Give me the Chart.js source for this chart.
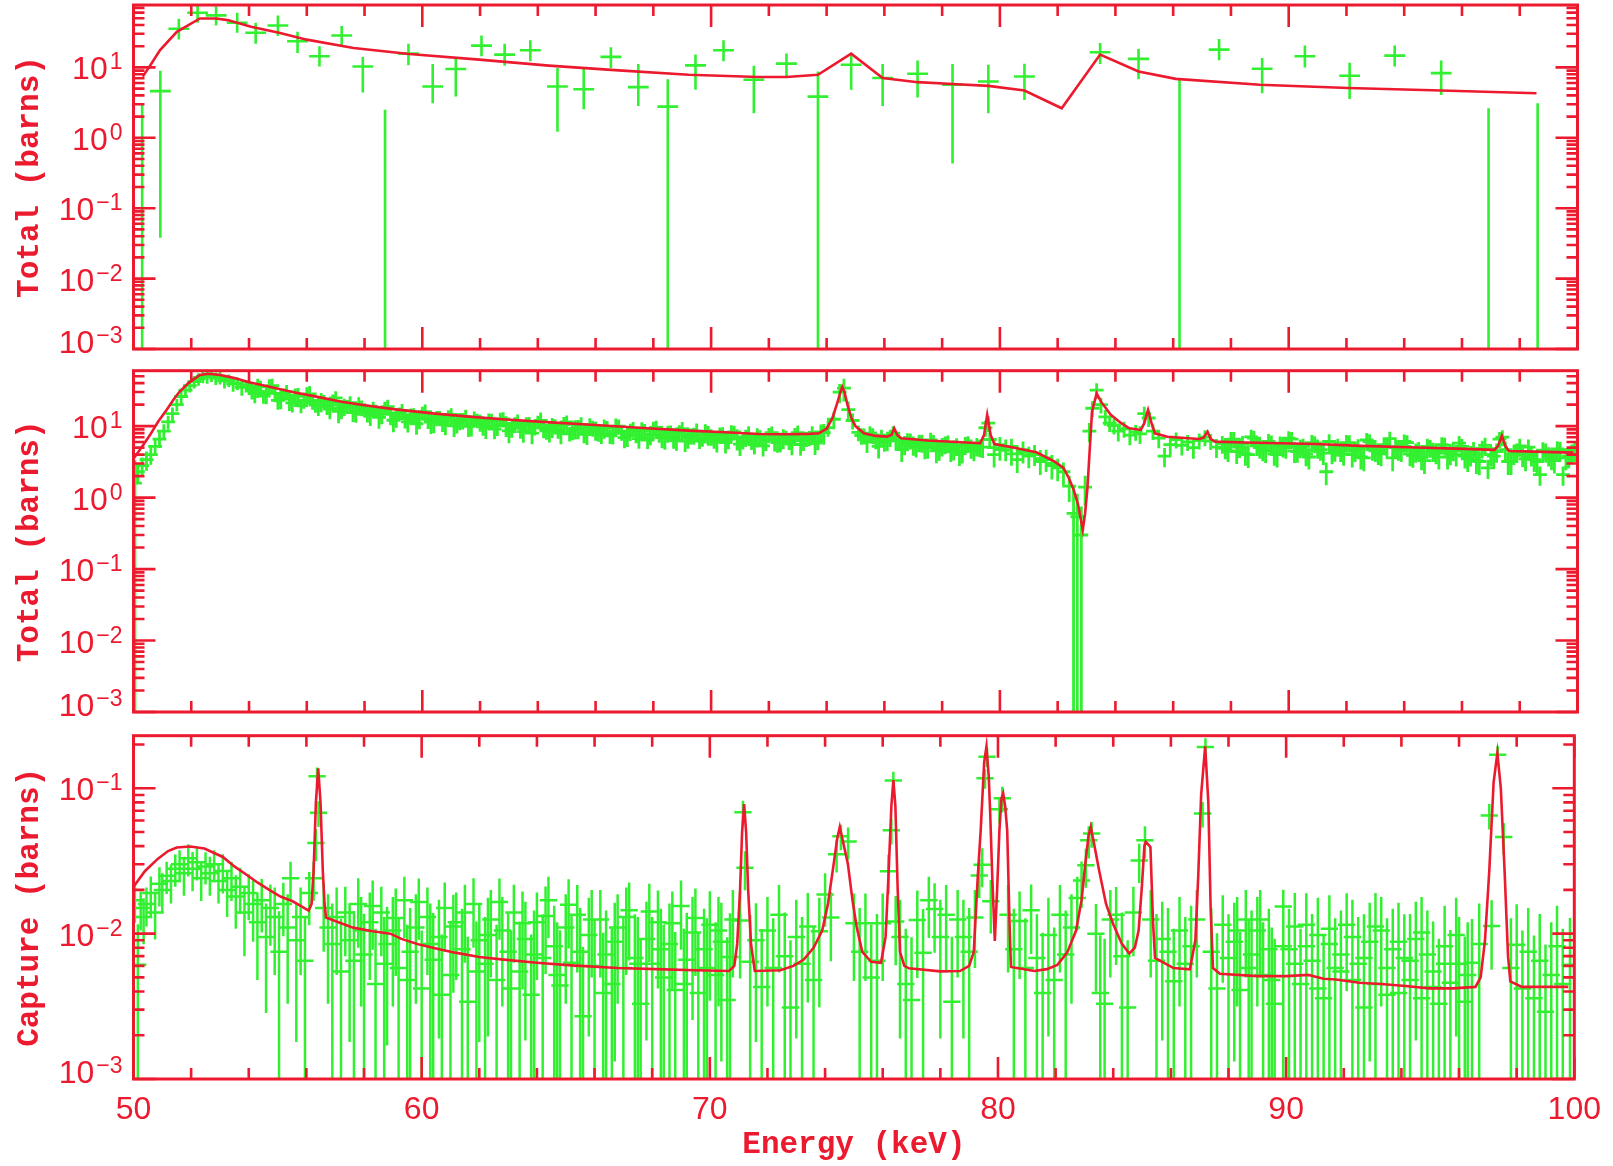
<!DOCTYPE html>
<html><head><meta charset="utf-8">
<script src="https://cdn.jsdelivr.net/npm/chart.js@4.4.1/dist/chart.umd.min.js"></script>
<style>
html,body{margin:0;padding:0;background:#fff;width:1613px;height:1166px;overflow:hidden}
canvas{position:absolute;left:0}
</style></head><body>
<canvas id="c1" width="1613" height="360" style="top:0px"></canvas>
<canvas id="c2" width="1613" height="360" style="top:360px"></canvas>
<canvas id="c3" width="1613" height="446" style="top:720px"></canvas>
<script>
// ---------------- axis ticks ----------------
const X_LABELS = [50, 60, 70, 80, 90, 100];
const X_TICKS = [50,52,54,56,58,60,62,64,66,68,70,72,74,76,78,80,82,84,86,88,90,92,94,96,98,100];
const P1_DECADES = [-3, -2, -1, 0, 1];
const P2_DECADES = [-3, -2, -1, 0, 1];
const P3_DECADES = [-3, -2, -1];

// ---------------- panel 1 : Total, coarse ----------------
const P1_E  = [50.3,50.93,51.57,52.22,52.86,53.59,54.23,55.0,55.68,56.44,57.21,57.94,58.71,59.52,60.36,61.16,62.05,62.85,63.74,64.68,65.59,66.53,67.48,68.5,69.46,70.43,71.48,72.61,73.7,74.85,75.94,77.15,78.36,79.6,80.85,83.47,84.8,86.22,87.59,89.08,90.56,92.11,93.67,95.28,96.92,98.62];
const P1_Y  = [0.0003,4.6,35.4,59.8,54.8,43,31,39.4,23.5,14.4,28.4,10.3,0.0003,15.7,5.35,9.5,20.4,15.2,17.5,5.35,4.9,14.1,5.25,2.77,10.7,17.5,6.67,11.3,3.85,10.9,7.06,8.13,5.66,6.3,7.44,16.4,13.2,0.0003,17.9,9.58,14.4,7.6,14.7,8.3,0.0003,0.0003];
const P1_LO = [0,0.038,24.9,43,39.3,31,21.6,28,16,10.3,20.4,4.4,0,10.7,3.1,3.85,14.4,10.6,12.2,1.22,2.55,9.8,2.84,0,4.8,12.2,2.23,7.3,0,4.8,2.84,3.73,0.43,2.23,3.45,11.2,6.8,0,12.6,4.3,10.0,3.57,10.3,4.07,0,0];
const P1_HI = [3.1,9.0,49,77,74,60,43,54.8,32,20,38.7,14,2.5,21.6,11.2,13.6,28.4,21.6,24.3,9.8,9.8,19.3,11.2,6.8,15.2,24.3,10.6,15.7,8.77,15.2,11.2,12.5,11.2,10.9,11.3,22.2,18.3,7.06,25.4,13.6,20.4,11.6,20.4,12.5,2.63,3.1];
const P1_XERR = 0.36;
const P1_MODEL_E = [50.32,50.6,50.92,51.5,52.3,52.86,53.26,54.07,55.04,56.0,57.62,59.55,61.97,64.38,66.8,69.22,71.64,72.61,73.7,74.85,75.94,77.15,78.36,79.6,80.85,82.14,83.47,84.8,86.09,89.0,92.06,95.28,98.58];
const P1_MODEL_Y = [7.4,11,17.6,32,49.6,49.5,47,37.8,31,24.8,18.9,15.5,12.9,10.6,9.07,7.87,7.3,7.3,7.87,15.7,7.06,6.17,5.8,5.47,4.69,2.63,15.2,8.77,6.88,5.66,5.1,4.69,4.3];

// ---------------- panel 2 : Total, fine ----------------
const P2_E_A = [50.05,50.15,50.3,50.45,50.6,50.75,50.9,51.05,51.2,51.35,51.5,51.65,51.8,51.95,52.1,52.25,52.4,52.55,52.7,52.85,53.0,53.15,53.3,53.45,53.6,53.75,53.9];
const P2_Y_A = [1.6,2.3,2.8,3.4,4.0,5.2,6.6,8.5,11.5,15,20,26,32,37,42,46,50,49,52,47,48,43,44,39,40,35,37];
const P2_D_A = [1.1,.3,.3,.3,.28,.25,.25,.25,.22,.22,.2,.2,.2,.2,.2,.2,.2,.2,.2,.2,.2,.22,.2,.22,.2,.24,.2];
const P2_E_B = [54,54.2,54.4,54.6,54.8,55,55.2,55.4,55.6,55.8,56,56.2,56.4,56.6,56.8,57,57.2,57.4,57.6,57.8,
  58,58.2,58.4,58.6,58.8,59,59.2,59.4,59.6,59.8,60,60.2,60.4,60.6,60.8,61,61.2,61.4,61.6,61.8,
  62,62.2,62.4,62.6,62.8,63,63.2,63.4,63.6,63.8,64,64.2,64.4,64.6,64.8,65,65.2,65.4,65.6,65.8,
  66,66.2,66.4,66.6,66.8,67,67.2,67.4,67.6,67.8,68,68.2,68.4,68.6,68.8,69,69.2,69.4,69.6,69.8,
  70,70.2,70.4,70.6,70.8,71,71.2,71.4,71.6,71.8,72,72.2,72.4,72.6,72.8,73,73.2,73.4,73.6,73.8];
const P2_Y_B = [35,29,36,29,37,23,28,24,27,19.4,27.5,22,19.8,22.5,17.3,24.8,17.9,19,15.5,19.7,
  17,14.3,16.5,14.6,18.7,12.1,15,12.9,14.2,10.8,15.6,12.5,11.5,13.3,10.4,14.6,11.3,12.1,9.9,12.9,
  11.4,9.6,12.2,10.1,12.6,8.6,10.7,9.4,10.9,8.0,11.6,9.4,8.7,10.1,8.0,11.5,8.7,9.4,7.7,10.1,
  8.9,7.6,9.7,8.0,10.0,6.9,8.5,7.5,8.7,6.4,9.0,7.5,6.9,8.1,6.4,9.2,7.0,7.5,6.2,8.2,
  7.2,6.1,7.8,6.6,8.3,5.6,7.0,6.2,7.2,5.3,7.6,6.4,5.9,7.0,5.6,8.1,6.3,6.9,5.8,8.3];
const P2_D_B = [.22,.28,.2,.3,.24,.26,.2,.32,.25,.22,.27,.23,.3,.21,.28,.24,.3,.22,.26,.29,
  .23,.3,.21,.27,.25,.32,.22,.28,.24,.3,.2,.27,.31,.23,.28,.22,.3,.26,.29,.24,
  .27,.31,.22,.28,.24,.33,.25,.29,.22,.3,.21,.28,.32,.24,.3,.23,.27,.3,.25,.28,
  .3,.26,.22,.31,.24,.29,.27,.23,.3,.25,.28,.22,.32,.26,.29,.24,.31,.27,.23,.3,
  .26,.3,.24,.28,.22,.32,.27,.25,.3,.29,.24,.31,.27,.23,.3,.26,.29,.24,.32,.27];
const P2_E_B2 = [54.1,54.3,54.5,54.7,54.9,55.1,55.3,55.5,55.7,55.9,56.1,56.3,56.5,56.7,56.9,57.1,57.3,57.5,57.7,57.9,
  58.1,58.3,58.5,58.7,58.9,59.1,59.3,59.5,59.7,59.9,60.1,60.3,60.5,60.7,60.9,61.1,61.3,61.5,61.7,61.9,
  62.1,62.3,62.5,62.7,62.9,63.1,63.3,63.5,63.7,63.9,64.1,64.3,64.5,64.7,64.9,65.1,65.3,65.5,65.7,65.9,
  66.1,66.3,66.5,66.7,66.9,67.1,67.3,67.5,67.7,67.9,68.1,68.3,68.5,68.7,68.9,69.1,69.3,69.5,69.7,69.9,
  70.1,70.3,70.5,70.7,70.9,71.1,71.3,71.5,71.7,71.9,72.1,72.3,72.5,72.7,72.9,73.1,73.3,73.5,73.7,73.9];
const P2_Y_B2 = [32,35.5,26.4,35.5,28.7,24.9,30.5,21.2,26.2,23,28.2,19.7,22.4,19.4,22.3,16.1,19,21.3,16,18.3,
  15.6,17.7,13.3,18,14.7,13,16.3,11.5,14.5,12.9,16,11.4,13.1,11.5,13.7,10.1,12,13.6,10.4,12.1,
  10.5,12,9.1,12.6,10.4,9.3,11.7,8.4,10.6,9.6,12,8.6,9.9,8.8,10.5,7.8,9.3,10.6,8.1,9.5,
  8.3,9.5,7.3,9.95,8.3,7.4,9.4,6.7,8.5,7.7,9.6,6.9,8.0,7.1,8.4,6.2,7.4,8.5,6.6,7.7,
  6.7,7.7,5.9,8.15,6.8,6.1,7.7,5.5,7.0,6.4,8.1,5.9,6.9,6.2,7.4,5.5,6.7,7.7,6.2,8.1];
const P2_D_B2 = [.26,.3,.22,.28,.25,.31,.23,.27,.3,.24,.29,.22,.3,.26,.24,.32,.27,.23,.3,.25,
  .28,.24,.31,.22,.3,.27,.25,.29,.23,.3,.26,.32,.24,.28,.22,.3,.27,.25,.31,.23,
  .3,.25,.28,.22,.32,.26,.24,.3,.27,.23,.29,.25,.31,.24,.28,.22,.3,.26,.33,.25,
  .27,.3,.23,.29,.25,.31,.22,.28,.26,.3,.24,.29,.27,.32,.23,.3,.25,.28,.22,.31,
  .28,.24,.3,.26,.33,.23,.29,.27,.25,.3,.22,.28,.31,.25,.27,.3,.24,.29,.26,.32];
const P2_E_C = [74.05,74.25,74.45,74.6,74.75,74.9,75.1,75.3,75.5,75.7,75.9,76.1,76.3,76.5,76.7,76.9,77.1,77.3,77.5,77.7,
  77.9,78.1,78.3,78.5,78.7,78.9,79.1,79.3,79.5,79.65,79.8,80,80.2,80.4,80.6,80.8,81,81.2,81.4,81.6,
  81.8,82,82.2,82.4,82.55,82.68,82.82,82.95,83.1,83.2,83.35,83.5,83.65,83.8,83.95,84.1,84.3,84.5,84.7,84.85,
  85,85.15,85.3,85.5,85.7,85.9,86.1,86.3,86.5,86.7,86.9,87.1,87.3,87.5];
const P2_Y_C = [9.5,12.5,30,34,17,12,8.2,7.4,8.0,6.6,7.1,6.2,8.0,6.5,5.6,6.3,5.2,5.9,5.0,6.0,
  4.7,5.6,4.5,5.3,4.4,5.8,4.6,5.1,9.5,6.5,5.0,5.5,4.6,5.2,4.1,4.7,3.9,4.2,3.5,3.6,
  3.0,2.6,2.3,1.45,0.6,0.54,0.3,1.4,8.5,17.8,32,20,13.5,11,10.2,8.5,9.2,7.5,8.3,7.8,
  15,13,8.5,6.8,3.8,5.5,6.5,5.4,6.0,5.0,6.3,7.0,6.2,5.1];
const P2_D_C = [.25,.25,.3,.35,.3,.25,.25,.25,.25,.28,.25,.28,.25,.25,.3,.25,.3,.28,.3,.25,
  .3,.28,.3,.28,.32,.25,.3,.28,.25,.25,.3,.28,.3,.28,.32,.3,.32,.3,.32,.3,
  .32,.35,.35,.4,1.3,1.1,1.5,.45,.3,.25,.25,.25,.25,.25,.25,.28,.25,.28,.25,.28,
  .25,.25,.25,.28,.3,.28,.25,.28,.25,.3,.25,.25,.25,.3];
const P2_E_C2 = [75.2,75.4,75.6,75.8,76.0,76.2,76.4,76.6,76.8,77.0,77.2,77.4,77.6,77.8,78.0,78.2,78.4,78.6,78.8,79.0,
  79.2,79.4,79.6,79.8,80.0,80.2,80.4,80.6,80.8,81.0,81.2,81.4,81.6,81.8];
const P2_Y_C2 = [7.4,6.0,7.5,5.2,6.1,7.0,6.6,4.7,6.2,5.5,5.9,5.0,6.4,4.5,5.3,5.8,4.8,4.2,5.5,5.0,
  5.3,5.1,11,4.0,4.7,5.1,4.1,3.4,4.3,3.8,4.0,3.2,3.4,2.8];
const P2_D_C2 = [.26,.3,.25,.32,.28,.27,.3,.33,.28,.3,.27,.31,.26,.33,.29,.28,.31,.34,.28,.3,
  .29,.3,.25,.34,.3,.28,.32,.35,.3,.32,.31,.35,.33,.36];
const P2_E_D = [87.7,87.9,88.1,88.3,88.5,88.7,88.9,89.1,89.3,89.5,89.7,89.9,90.1,90.3,90.5,90.7,90.9,91.1,91.3,91.5,
  91.7,91.9,92.1,92.3,92.5,92.7,92.9,93.1,93.3,93.5,93.7,93.9,94.1,94.3,94.5,94.7,94.9,95.1,95.3,95.5,
  95.7,95.9,96.1,96.3,96.5,96.7,96.9,97.1,97.3,97.5,97.7,97.9,98.1,98.3,98.5,98.7,98.9,99.1,99.3,99.5,99.7,99.9];
const P2_Y_D = [5.7,4.5,6.6,5.1,4.1,7.1,5.3,4.6,6.1,4.1,5.6,5.0,6.6,4.4,5.2,3.7,5.7,4.7,2.3,4.2,
  5.2,4.1,5.9,4.5,3.7,6.4,4.7,4.2,5.5,6.7,5.0,4.5,5.9,3.9,4.6,3.3,5.0,4.2,5.5,3.7,
  4.6,5.8,3.8,4.0,3.3,4.9,2.6,3.8,6.6,4.7,3.2,4.4,3.9,5.1,3.4,2.1,4.4,3.6,4.8,2.1,3.8,4.5];
const P2_D_D = [.28,.3,.25,.3,.32,.25,.28,.3,.27,.32,.28,.3,.25,.3,.28,.33,.27,.3,.35,.3,
  .28,.32,.26,.3,.33,.25,.3,.32,.27,.25,.28,.3,.26,.33,.3,.35,.28,.3,.27,.33,
  .3,.26,.33,.32,.35,.28,.3,.33,.25,.3,.35,.3,.32,.28,.33,.3,.3,.33,.28,.3,.32,.3];
const P2_E_D2 = [87.8,88.0,88.2,88.4,88.6,88.8,89.0,89.2,89.4,89.6,89.8,90.0,90.2,90.4,90.6,90.8,91.0,91.2,91.4,91.6,
  91.8,92.0,92.2,92.4,92.6,92.8,93.0,93.2,93.4,93.6,93.8,94.0,94.2,94.4,94.6,94.8,95.0,95.2,95.4,95.6,
  95.8,96.0,96.2,96.4,96.6,96.8,97.0,97.2,97.4,97.6,97.8,98.0,98.2,98.4,98.6,98.8,99.0,99.2,99.4,99.6,99.8];
const P2_Y_D2 = [4.9,6.5,4.4,5.7,4.0,6.8,5.0,4.5,5.78,4.0,5.2,6.8,4.5,5.0,4.1,5.9,5.0,4.2,6.1,4.6,
  4.5,5.9,4.0,5.1,3.6,6.1,4.5,4.1,5.17,3.6,4.7,6.1,4.1,4.4,3.65,5.2,4.5,3.7,5.4,4.1,
  4.0,5.2,3.5,4.6,3.2,5.4,4.0,4.4,7.0,3.2,4.1,5.3,3.5,3.9,3.2,4.6,3.9,3.3,4.7,3.6,4.25];
const P2_D_D2 = [.3,.27,.33,.28,.35,.26,.3,.32,.28,.34,.3,.25,.32,.29,.33,.27,.3,.32,.26,.31,
  .3,.27,.34,.29,.35,.26,.3,.33,.28,.35,.3,.25,.33,.3,.34,.28,.3,.33,.27,.31,
  .32,.27,.35,.3,.36,.27,.31,.3,.25,.35,.3,.26,.33,.3,.35,.29,.3,.34,.28,.33,.3];
const P2_XERR = 0.24;
const P2_MODEL_E = [50.0,50.3,50.57,50.85,51.15,51.4,51.6,51.9,52.3,52.6,
  53.0,53.5,54.0,54.71,55.5,56.33,57.2,57.94,59.0,60.36,
  61.5,62.77,64.3,66.0,67.5,69.22,70.5,71.64,72.6,73.4,
  73.73,74.0,74.2,74.35,74.48,74.54,74.62,74.72,74.86,75.0,
  75.29,75.7,76.1,76.25,76.34,76.45,76.58,77.5,78.5,79.32,
  79.45,79.56,79.68,79.81,80.5,81.26,81.9,82.2,82.39,82.55,
  82.71,82.8,82.87,82.95,83.03,83.1,83.19,83.35,83.5,83.84,
  84.2,84.48,84.88,85.0,85.13,85.25,85.37,85.8,86.9,87.05,
  87.19,87.3,87.46,88.5,90.93,92.5,94.15,95.8,97.13,97.25,
  97.38,97.5,97.62,98.5,99.85];
const P2_MODEL_Y = [3.5,5.2,7.5,11.5,17,24,30.5,40,52,54,
  52,47,41,35.7,30,25.9,22,19.8,17.3,15.1,
  13.7,12.5,11.4,10.4,9.5,8.65,8.2,7.77,7.7,7.8,
  7.94,9.2,12.9,20,30,35.7,30,20,12.9,10,
  7.94,7.3,7.13,7.6,9.34,7.5,6.77,6.3,6.0,5.77,
  7.5,14.4,7.5,5.63,5.0,4.31,3.19,2.6,1.87,1.3,
  0.79,0.5,0.353,0.6,1.35,4,16,28.8,22,14.4,
  11,9.34,8.85,11,16.9,11,7.94,7.1,6.62,6.9,
  8.37,6.6,6.07,5.9,5.63,5.3,5.07,4.85,4.65,5.3,
  7.3,5.3,4.5,4.4,4.26];

// ---------------- panel 3 : Capture ----------------
const P3_E_A = [50.05,50.15,50.25,50.35,50.45,50.6,50.75,50.9,51.0,51.15,51.3,51.45,51.6,51.75,51.9,52.05,52.2,52.35,52.5,52.65,
  52.8,52.95,53.1,53.25,53.4,53.55,53.7,53.85,54.0,54.15,54.3,54.45,54.6,54.75,54.9,55.05,55.2,55.35,55.45,55.65,
  55.8,55.95,56.1,56.25,56.33,56.37,56.42,56.6,56.75,56.9,57.05,57.2,57.35,57.5,57.65];
const P3_Y_A = [.017,.0061,.015,.013,.016,.019,.014,.022,.02,.025,.023,.028,.03,.026,.033,.028,.031,.024,.029,.026,
  .03,.023,.027,.02,.024,.018,.021,.014,.019,.016,.012,.017,.0095,.015,.013,.0075,.016,.011,.024,.009,
  .013,.0065,.019,.024,.042,.121,.0678,.015,.011,.0085,.013,.0055,.014,.009,.0065];
const P3_D_A = [.3,.9,.3,.35,.3,.3,.35,.3,.3,.25,.3,.25,.25,.3,.25,.3,.25,.3,.25,.3,
  .25,.3,.3,.35,.3,.4,.35,.5,.35,.45,.6,.4,.7,.45,.6,.9,.4,.7,.3,.8,
  .6,1.0,.4,.3,.25,.15,.2,.5,.7,.9,.6,1.3,.5,.8,1.2];
const P3_E_B = [57.8,58.0,58.2,58.4,58.6,58.8,59.0,59.2,59.4,59.6,
  59.8,60.0,60.2,60.4,60.6,60.8,61.0,61.2,61.4,61.6,
  61.8,62.0,62.2,62.4,62.6,62.8,63.0,63.2,63.4,63.6,
  63.8,64.0,64.2,64.4,64.6,64.8,65.0,65.2,65.4,65.6,
  65.8,66.0,66.2,66.4,66.6,66.8,67.0,67.2,67.4,67.6,
  67.8,68.0,68.2,68.4,68.6,68.8,69.0,69.2,69.4,69.6,
  69.8,70.0,70.2,70.4,70.6,70.8,71.05,71.15,71.22,71.4,
  71.6,71.8,72.0,72.2,72.4,72.6,72.8,73.0,73.2,73.4,
  73.6,73.8,74.0,74.2,74.4,74.55,74.8,75.0,75.2,75.4,
  75.6,75.8,76.0,76.2,76.3,76.37,76.45,76.6,76.8,77.0,
  77.2,77.4,77.6,77.8,78.0,78.2,78.4,78.6,78.8,79.0,
  79.2,79.35,79.45,79.55,79.62,79.75,80.05,80.15,80.35,80.55,
  80.75,80.95,81.15,81.35,81.55,81.75,81.95,82.15,82.35,82.55,
  82.75,82.9,83.05,83.15,83.25,83.4,83.55,83.7,83.9,84.1,
  84.3,84.5,84.7,84.9,85.1,85.3,85.5,85.7,85.9,86.1,
  86.3,86.5,86.7,86.9,87.1,87.2,87.4,87.6,87.8,88.0,
  88.2,88.4,88.6,88.8,89.0,89.2,89.4,89.6,89.9,90.1,
  90.3,90.5,90.7,90.9,91.1,91.3,91.5,91.7,91.9,92.1,
  92.3,92.5,92.7,92.9,93.1,93.3,93.5,93.7,93.9,94.1,
  94.3,94.5,94.7,94.9,95.1,95.3,95.5,95.7,96.0,96.2,
  96.45,96.7,97.05,97.13,97.34,97.55,97.8,98.0,98.2,98.4,
  98.6,98.8,99.0,99.2,99.4,99.6,99.85];
const P3_Y_B = [.016,.0072,.012,.0045,.014,.0085,.0105,.0058,.017,.0075,
  .011,.0042,.013,.0066,.0095,.015,.0052,.012,.0078,.0034,
  .016,.009,.0062,.0125,.0048,.0105,.0075,.014,.0055,.0092,
  .0038,.012,.0068,.017,.0082,.0044,.011,.0063,.0135,.0027,
  .0098,.006,.0125,.0072,.0045,.011,.0058,.0145,.0068,.0033,
  .0092,.0062,.012,.005,.0085,.0041,.0155,.0066,.0102,.0039,
  .0078,.0115,.0052,.0088,.0035,.0125,.0123,.0683,.0284,.0064,
  .009,.0043,.0105,.0058,.0135,.007,.0031,.0095,.0062,.0112,
  .0048,.0104,.0186,.0129,.0351,.0468,.043,.0118,.0075,.0118,
  .005,.0065,.0118,.0269,.0514,.113,.0121,.0095,.0045,.0035,
  .0124,.0074,.017,.0148,.0095,.0135,.0034,.0125,.0095,.0075,
  .0129,.0251,.0298,.117,.165,.0167,.0716,.0853,.0135,.0078,
  .0122,.0058,.0145,.0068,.0039,.0098,.0048,.0135,.0072,.011,
  .0176,.0232,.0295,.0439,.0488,.01,.0039,.0033,.0125,.0135,
  .007,.0031,.014,.0319,.0439,.0125,.0065,.0092,.0075,.0047,
  .0105,.0062,.0082,.0125,.0671,.192,.0075,.0042,.0115,.0068,
  .0088,.0041,.0125,.0072,.0105,.0052,.0078,.0033,.0154,.0078,
  .0112,.0045,.0082,.0065,.0098,.0036,.0085,.0058,.0072,.0115,
  .0048,.0062,.0031,.0088,.0045,.0105,.0058,.0078,.0039,.0068,
  .0048,.0092,.0036,.0072,.0055,.0033,.0082,.0046,.0062,.0034,
  .0063,.0085,.065,.0113,.17,.0462,.0058,.0084,.0042,.0075,
  .0036,.0065,.0029,.0052,.0082,.0045,.0061];
const P3_D_B = [.5,.9,.6,1.4,.5,.8,.7,1.2,.45,1.0,
  .7,1.5,.6,1.1,.8,.5,1.3,.6,.9,1.8,
  .5,.8,1.1,.6,1.4,.7,.9,.55,1.2,.8,
  1.6,.6,1.0,.45,.9,1.4,.7,1.1,.6,2.0,
  .8,1.1,.6,1.0,1.4,.7,1.2,.55,1.0,1.8,
  .8,1.1,.65,1.3,.9,1.5,.5,1.1,.75,1.6,
  .9,.7,1.3,.85,1.7,.6,.6,.2,.3,1.1,
  .8,1.5,.7,1.2,.6,1.0,1.9,.8,1.1,.7,
  1.3,.7,.4,.5,.25,.2,.25,.6,1.0,.6,
  1.3,1.1,.6,.3,.2,.15,.5,.8,1.4,1.7,
  .6,1.0,.45,.5,.8,.6,1.8,.6,.8,1.0,
  .55,.3,.3,.15,.15,.4,.2,.2,.6,.9,
  .6,1.2,.5,1.0,1.6,.8,1.3,.6,1.0,.7,
  .4,.35,.3,.25,.2,.6,1.5,1.8,.6,.55,
  1.0,1.9,.5,.3,.25,.6,1.1,.8,1.0,1.3,
  .7,1.1,.9,.6,.2,.15,1.0,1.4,.6,1.0,
  .85,1.5,.6,1.0,.7,1.3,.9,1.8,.3,.9,
  .7,1.4,.9,1.1,.8,1.7,.9,1.2,1.0,.65,
  1.3,1.1,1.9,.85,1.4,.7,1.2,.9,1.6,1.0,
  1.3,.8,1.7,1.0,1.2,1.8,.9,1.3,1.1,1.8,
  1.0,.9,.2,.5,.15,.25,1.2,.9,1.5,1.0,
  1.7,1.1,1.9,1.3,.9,1.4,1.1];
const P3_E_C = [57.9,58.3,58.7,59.1,59.5,59.9,60.3,60.7,61.1,61.5,61.9,62.3,62.7,63.1,63.5,63.9,64.3,64.7,65.1,65.5,
  65.9,66.3,66.7,67.1,67.5,67.9,68.3,68.7,69.1,69.5,69.9,70.3,70.7,
  88.3,88.7,89.1,89.5,89.9,90.3,90.7,91.1,91.5,91.9,92.3,92.7,93.1,93.5,93.9,94.3,94.7,95.1,95.5,95.9,96.3];
const P3_Y_C = [.0105,.0155,.0062,.0128,.0048,.0165,.0085,.0038,.0112,.014,.0055,.0098,.0165,.0042,.0118,.0072,.0132,.0052,.0158,.0075,
  .0125,.0039,.0088,.013,.0062,.0142,.0078,.0118,.0045,.0128,.0058,.0105,.0069,
  .0105,.0058,.0125,.0048,.0082,.0062,.0115,.0042,.0108,.0055,.0095,.0068,.0112,.0038,.0088,.0065,.0102,.0043,.0062,.0098,.0052];
const P3_D_C = [.7,.5,1.1,.6,1.4,.45,.9,1.6,.65,.55,1.2,.8,.45,1.5,.65,1.0,.6,1.3,.5,1.0,
  .6,1.6,.85,.6,1.1,.55,.9,.65,1.4,.6,1.2,.7,1.0,
  .7,1.2,.6,1.3,.9,1.1,.65,1.5,.7,1.2,.8,1.0,.7,1.6,.85,1.1,.75,1.5,1.1,.8,1.3];
const P3_XERR = 0.3;
const P3_MODEL_E = [50.0,50.4,50.85,51.2,51.5,51.97,52.46,53.1,53.5,53.91,
  54.3,54.71,55.1,55.52,55.8,56.08,56.18,56.25,56.33,56.41,
  56.49,56.57,56.63,56.68,57.0,57.62,58.3,58.91,59.3,59.88,
  60.5,61.16,62.0,62.77,64.0,65.19,66.8,68.42,69.5,70.67,
  70.85,70.95,71.05,71.12,71.19,71.26,71.33,71.43,71.56,72.45,
  72.9,73.25,73.6,73.9,74.1,74.3,74.42,74.51,74.6,74.79,
  74.95,75.1,75.29,75.6,75.94,76.1,76.2,76.3,76.37,76.44,
  76.52,76.6,76.75,76.91,78.0,78.68,79.0,79.16,79.3,79.4,
  79.52,79.6,79.68,79.73,79.8,79.89,79.97,80.05,80.12,80.18,
  80.25,80.32,80.4,80.45,81.26,81.7,82.06,82.4,82.71,82.9,
  83.03,83.14,83.22,83.32,83.51,83.75,84.0,84.3,84.56,84.75,
  84.88,85.0,85.08,85.13,85.29,85.38,85.45,86.09,86.66,86.85,
  86.95,87.05,87.19,87.3,87.38,87.46,87.7,89.0,90.0,90.77,
  91.3,91.73,92.54,93.3,94.15,94.96,95.8,96.57,96.75,96.9,
  97.05,97.2,97.33,97.45,97.58,97.7,97.78,98.18,99.79];
const P3_MODEL_Y = [.021,.027,.0328,.037,.0391,.0398,.0385,.0337,.029,.0255,
  .0225,.02,.018,.0167,.0155,.0144,.016,.027,.08,.137,
  .08,.027,.016,.0129,.0122,.011,.0104,.01,.0092,.00845,
  .0079,.0074,.0069,.00665,.0063,.00605,.0058,.00568,.0056,.00553,
  .006,.0085,.02,.05,.0779,.05,.02,.0085,.00553,.0056,
  .006,.0066,.008,.0105,.016,.0303,.045,.0542,.045,.0303,
  .017,.011,.0075,.0064,.0063,.0095,.025,.075,.114,.075,
  .02,.0075,.006,.00577,.0055,.00553,.006,.0075,.025,.0514,
  .15,.194,.12,.067,.025,.0089,.02,.0514,.085,.0923,
  .075,.0514,.012,.0059,.00553,.0057,.0061,.0074,.0105,.017,
  .0303,.047,.0542,.043,.0272,.016,.0116,.0085,.0073,.008,
  .0105,.022,.04,.0428,.0395,.012,.0068,.0058,.00568,.009,
  .025,.09,.194,.08,.015,.0058,.0053,.0051,.0051,.0052,
  .0049,.00484,.00459,.0045,.00436,.0042,.0042,.0043,.005,.009,
  .0272,.11,.1745,.1,.0272,.007,.0047,.0043,.0043];

// ---------------- styling ----------------
const RED = '#ec1a2e';
const GREEN = '#30f030';
const TICK_FONT = '"Liberation Sans", Arial, sans-serif';
const TITLE_FONT = '"Liberation Mono", "Courier New", monospace';

function relPoints(E, Y, D) {
  const out = [];
  E.forEach((e, i) => {
    const y = Y[i], d = D[i];
    if (isFinite(y) && isFinite(d)) out.push({x: e, y: y, lo: y * (1 - d), hi: y * (1 + d)});
  });
  return out;
}
function pairs(E, Y) { return E.map((e, i) => ({x: e, y: Y[i]})).filter(p => isFinite(p.y)); }

const P1_POINTS = P1_E.map((e, i) => ({x: e, y: P1_Y[i], lo: P1_LO[i], hi: P1_HI[i]}));
const P2_POINTS = relPoints(
  P2_E_A.concat(P2_E_B, P2_E_B2, P2_E_C, P2_E_C2, P2_E_D, P2_E_D2),
  P2_Y_A.concat(P2_Y_B, P2_Y_B2, P2_Y_C, P2_Y_C2, P2_Y_D, P2_Y_D2),
  P2_D_A.concat(P2_D_B, P2_D_B2, P2_D_C, P2_D_C2, P2_D_D, P2_D_D2));
const P3_POINTS = relPoints(P3_E_A.concat(P3_E_B, P3_E_C), P3_Y_A.concat(P3_Y_B, P3_Y_C), P3_D_A.concat(P3_D_B, P3_D_C));

function drawCrosses(chart, xerr, lw) {
  const {ctx, chartArea: a, scales} = chart;
  const xs = scales.x, ys = scales.y;
  const pts = chart.data.datasets[0].data;
  ctx.save();
  ctx.beginPath();
  ctx.rect(a.left, a.top, a.right - a.left, a.bottom - a.top);
  ctx.clip();
  ctx.strokeStyle = GREEN;
  ctx.lineWidth = lw;
  ctx.beginPath();
  const below = a.bottom + 40;
  pts.forEach(p => {
    const px = xs.getPixelForValue(p.x);
    const pl = xs.getPixelForValue(p.x - xerr), pr = xs.getPixelForValue(p.x + xerr);
    const py = p.y > 0 ? ys.getPixelForValue(p.y) : below;
    const pt = p.hi > 0 ? ys.getPixelForValue(p.hi) : below;
    const pb = p.lo > 0 ? ys.getPixelForValue(p.lo) : below;
    ctx.moveTo(pl, py); ctx.lineTo(pr, py);
    ctx.moveTo(px, pt); ctx.lineTo(px, pb);
  });
  ctx.stroke();
  ctx.restore();
}

function drawFrame(chart, decades) {
  const {ctx, chartArea: a, scales} = chart;
  const xs = scales.x, ys = scales.y;
  ctx.save();
  ctx.strokeStyle = RED;
  ctx.lineWidth = 2.6;
  ctx.beginPath();
  X_TICKS.forEach(v => {
    const len = X_LABELS.includes(v) ? 22 : 11;
    const px = xs.getPixelForValue(v);
    ctx.moveTo(px, a.top); ctx.lineTo(px, a.top + len);
    ctx.moveTo(px, a.bottom); ctx.lineTo(px, a.bottom - len);
  });
  const kmin = Math.floor(Math.log10(ys.min) + 1e-9), kmax = Math.ceil(Math.log10(ys.max));
  for (let k = kmin; k <= kmax; k++) {
    for (let m = 1; m < 10; m++) {
      const v = m * Math.pow(10, k);
      if (v < ys.min * 0.999 || v > ys.max * 1.001) continue;
      const len = m === 1 ? 22 : 11;
      const py = ys.getPixelForValue(v);
      ctx.moveTo(a.left, py); ctx.lineTo(a.left + len, py);
      ctx.moveTo(a.right, py); ctx.lineTo(a.right - len, py);
    }
  }
  ctx.stroke();
  ctx.lineWidth = 3;
  ctx.strokeRect(a.left, a.top, a.right - a.left, a.bottom - a.top);

  ctx.fillStyle = RED;
  ctx.textAlign = 'right';
  ctx.textBaseline = 'alphabetic';
  decades.forEach(k => {
    let py = ys.getPixelForValue(Math.pow(10, k));
    if (Math.abs(py - a.bottom) < 2) py -= 8;
    const exp = k < 0 ? '\u2212' + (-k) : String(k);
    const right = a.left - 11;
    ctx.font = '23px ' + TICK_FONT;
    const w = ctx.measureText(exp).width;
    ctx.fillText(exp, right, py + 2);
    ctx.font = '32px ' + TICK_FONT;
    ctx.fillText('10', right - w - 2, py + 12);
  });
  ctx.restore();
}

function makeChart(id, o) {
  const ctx = document.getElementById(id);
  const xAxis = o.bottom ? {
    type: 'linear', min: 50, max: 100, position: 'bottom', display: true,
    ticks: {stepSize: 10, color: RED, padding: 12, maxRotation: 0, autoSkip: false,
      font: {family: TICK_FONT, size: 32},
      callback: v => X_LABELS.includes(v) ? String(v) : ''},
    grid: {display: false, drawTicks: false}, border: {display: false},
    title: {display: true, text: 'Energy (keV)', color: RED,
      font: {family: TITLE_FONT, size: 31, weight: 'bold'}, padding: {top: 0, bottom: 2}},
    afterFit: s => { s.height = 87; }
  } : {type: 'linear', min: 50, max: 100, display: false};
  return new Chart(ctx, {
    type: 'scatter',
    data: {datasets: [
      {label: 'data', data: o.points, pointRadius: 0, pointHoverRadius: 0, showLine: false},
      {label: 'model', data: o.model, showLine: true, borderColor: RED, borderWidth: 2.6,
        pointRadius: 0, pointHoverRadius: 0, tension: 0, fill: false}
    ]},
    options: {
      responsive: false, animation: false, devicePixelRatio: 1,
      events: [],
      layout: {padding: {top: o.padTop, right: 35.5, bottom: o.padBottom, left: 0}},
      plugins: {legend: {display: false}, tooltip: {enabled: false}},
      scales: {
        x: xAxis,
        y: {
          type: 'logarithmic', min: 0.001, max: o.ymax, bounds: 'data',
          ticks: {display: false}, grid: {display: false, drawTicks: false}, border: {display: false},
          title: {display: true, text: o.ytitle, color: RED,
            font: {family: TITLE_FONT, size: 31, weight: 'bold'}, padding: {top: 12, bottom: 0}},
          afterFit: s => { s.width = 133.5; }
        }
      }
    },
    plugins: [{
      id: 'crossesAndFrame_' + id,
      beforeDatasetsDraw: c => drawCrosses(c, o.xerr, o.lw),
      afterDraw: c => drawFrame(c, o.decades)
    }]
  });
}

makeChart('c1', {points: P1_POINTS, model: pairs(P1_MODEL_E, P1_MODEL_Y), xerr: P1_XERR, lw: 2.6,
  ymax: 77, decades: P1_DECADES, ytitle: 'Total (barns)', padTop: 5, padBottom: 11, bottom: false});
makeChart('c2', {points: P2_POINTS, model: pairs(P2_MODEL_E, P2_MODEL_Y), xerr: P2_XERR, lw: 2.8,
  ymax: 59.7, decades: P2_DECADES, ytitle: 'Total (barns)', padTop: 10.7, padBottom: 8, bottom: false});
makeChart('c3', {points: P3_POINTS, model: pairs(P3_MODEL_E, P3_MODEL_Y), xerr: P3_XERR, lw: 2.5,
  ymax: 0.23, decades: P3_DECADES, ytitle: 'Capture (barns)', padTop: 15.7, padBottom: 0, bottom: true});
</script></body></html>
